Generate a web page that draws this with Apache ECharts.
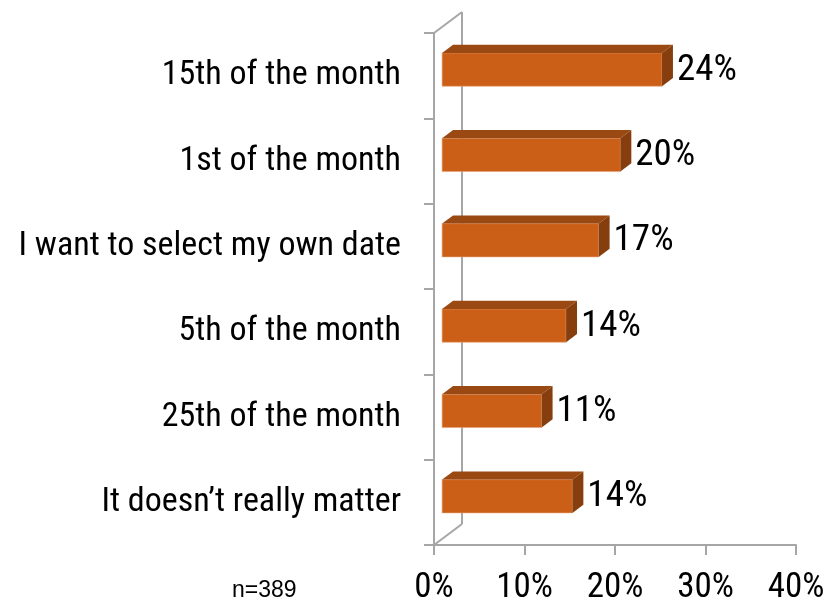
<!DOCTYPE html>
<html>
<head>
<meta charset="utf-8">
<script src="https://cdn.jsdelivr.net/npm/echarts@6/dist/echarts.min.js"></script>
<style>
  html, body { margin: 0; padding: 0; background: #fff; }
  #chart { width: 827px; height: 605px; }
</style>
</head>
<body>
<div id="chart"></div>
<script>
const categories = [
  '15th of the month',
  '1st of the month',
  'I want to select my own date',
  '5th of the month',
  '25th of the month',
  'It doesn\u2019t really matter'
]
const shares = [24.3, 19.7, 17.3, 13.7, 11.0, 14.4]
const xTicks = [0, 10, 20, 30, 40]
const sampleNote = 'n=389'

const FONT = '"Roboto Condensed", "Liberation Sans", Arial, sans-serif'
// depth of the fake 3d floor/wall
const DX = 28
const DY = 21

const chart = echarts.init(document.getElementById('chart'))

function renderWall (params, api) {
  const cs = params.coordSys
  const style = { stroke: '#a6a6a6', lineWidth: 2, fill: null }
  return {
    type: 'group',
    children: [
      { type: 'line', shape: { x1: cs.x + DX, y1: cs.y - DY, x2: cs.x + DX, y2: cs.y + cs.height - DY }, style: style },
      { type: 'line', shape: { x1: cs.x, y1: cs.y, x2: cs.x + DX, y2: cs.y - DY }, style: style },
      { type: 'line', shape: { x1: cs.x, y1: cs.y + cs.height, x2: cs.x + DX, y2: cs.y + cs.height - DY }, style: style }
    ]
  }
}

function renderBar (params, api) {
  const cat = api.value(1)
  const start = api.coord([0, cat])
  const end = api.coord([api.value(0), cat])
  const band = api.size([0, 1])[1]
  const ox = DX * 0.29
  const oy = -DY * 0.29
  const dx = DX * 0.39
  const dy = DY * 0.39
  const h = band * 0.39
  const x0 = start[0] + ox
  const x1 = end[0] + ox
  const yTop = start[1] - h / 2 + oy
  const yBot = yTop + h
  return {
    type: 'group',
    children: [
      {
        type: 'rect',
        shape: { x: x0, y: yTop, width: x1 - x0, height: h },
        style: { fill: '#cb5f17', stroke: '#e8a27a', lineWidth: 0.6 }
      },
      {
        type: 'polygon',
        shape: { points: [[x0, yTop], [x1, yTop], [x1 + dx, yTop - dy], [x0 + dx, yTop - dy]] },
        style: { fill: '#9b4912' }
      },
      {
        type: 'polygon',
        shape: { points: [[x1, yTop], [x1 + dx, yTop - dy], [x1 + dx, yBot - dy], [x1, yBot]] },
        style: { fill: '#873e0e' }
      },
      {
        type: 'text',
        style: {
          x: x1 + dx + 4,
          y: (yTop + yBot) / 2 + 1,
          text: Math.round(api.value(0)) + '%',
          fill: '#000',
          font: '37px ' + FONT,
          verticalAlign: 'middle',
          align: 'left'
        }
      }
    ]
  }
}

const option = {
  animation: false,
  grid: { left: 434, right: 31, top: 33, bottom: 60, outerBoundsMode: 'none', containLabel: false },
  xAxis: {
    type: 'value',
    min: xTicks[0],
    max: xTicks[xTicks.length - 1],
    interval: 10,
    splitLine: { show: false },
    axisLine: { show: true, lineStyle: { color: '#a6a6a6', width: 2 } },
    axisTick: { show: true, length: 10, lineStyle: { color: '#a6a6a6', width: 2 } },
    axisLabel: {
      formatter: '{value}%',
      color: '#000',
      fontSize: 35,
      fontFamily: FONT,
      margin: 26
    }
  },
  yAxis: {
    type: 'category',
    inverse: true,
    data: categories,
    axisLine: { show: true, lineStyle: { color: '#a6a6a6', width: 2 } },
    axisTick: { show: true, length: 10, lineStyle: { color: '#a6a6a6', width: 2 } },
    axisLabel: {
      color: '#000',
      fontSize: 34,
      fontFamily: FONT,
      margin: 33
    }
  },
  graphic: [
    {
      type: 'text',
      left: 232,
      top: 579,
      style: { text: sampleNote, fill: '#000', font: '23px "Liberation Sans", Arial, sans-serif' }
    }
  ],
  series: [
    {
      type: 'custom',
      name: 'wall',
      renderItem: renderWall,
      data: [[0, 0]],
      encode: { x: 0, y: 1 },
      z: 1,
      silent: true
    },
    {
      type: 'custom',
      name: 'share',
      renderItem: renderBar,
      data: shares.map((v, i) => [v, i]),
      encode: { x: 0, y: 1 },
      z: 2
    }
  ]
}

chart.setOption(option)
</script>
</body>
</html>
